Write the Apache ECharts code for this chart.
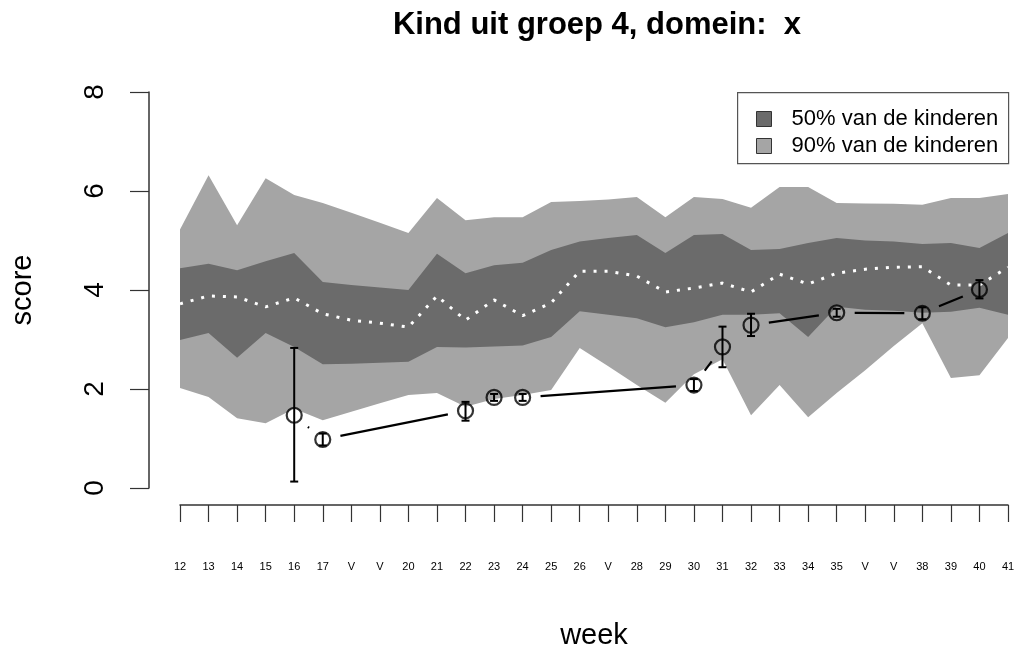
<!DOCTYPE html>
<html><head><meta charset="utf-8">
<script src="https://cdn.jsdelivr.net/npm/echarts@6/dist/echarts.min.js"></script>
<style>html,body{margin:0;padding:0;background:#fff}#c{width:1024px;height:657px}</style>
</head><body><div id="c"></div>
<script>
const weeks = ['12','13','14','15','16','17','V','V','20','21','22','23','24','25','26','V','28','29','30','31','32','33','34','35','V','V','38','39','40','41'];
const p90Upper = [5.22,6.32,5.31,6.26,5.92,5.76,5.56,5.36,5.15,5.86,5.41,5.47,5.47,5.78,5.80,5.83,5.88,5.47,5.88,5.84,5.66,6.08,6.08,5.76,5.75,5.74,5.72,5.86,5.86,5.94];
const p50Upper = [4.44,4.53,4.40,4.58,4.75,4.16,4.10,4.05,4.00,4.73,4.34,4.50,4.55,4.81,4.98,5.05,5.11,4.75,5.11,5.13,4.81,4.83,4.95,5.05,5.00,4.98,4.93,4.95,4.85,5.15];
const p50Lower = [2.99,3.13,2.63,3.13,2.85,2.50,2.51,2.53,2.55,2.85,2.84,2.86,2.88,3.05,3.57,3.50,3.43,3.25,3.35,3.50,3.50,3.53,3.05,3.66,3.60,3.58,3.54,3.56,3.64,3.50];
const p90Lower = [2.02,1.84,1.41,1.31,1.60,1.37,1.54,1.71,1.88,1.92,1.64,1.80,1.88,1.98,2.83,2.46,2.08,1.72,2.30,2.60,1.47,2.08,1.43,1.92,2.38,2.87,3.33,2.22,2.28,3.03];
const median   = [3.72,3.88,3.86,3.66,3.84,3.52,3.39,3.33,3.25,3.88,3.39,3.80,3.48,3.74,4.38,4.38,4.28,3.96,4.04,4.14,3.96,4.32,4.12,4.34,4.42,4.46,4.47,4.10,4.10,4.46];
const childScore = [null,null,null,null,1.47,0.98,null,null,null,null,1.56,1.83,1.83,null,null,null,null,null,2.08,2.85,3.29,null,null,3.54,null,null,3.53,null,4.01,null];
const childLow   = [null,null,null,null,0.13,0.86,null,null,null,null,1.36,1.76,1.76,null,null,null,null,null,1.96,2.44,3.07,null,null,3.46,null,null,3.41,null,3.83,null];
const childHigh  = [null,null,null,null,2.83,1.10,null,null,null,null,1.74,1.90,1.90,null,null,null,null,null,2.20,3.26,3.52,null,null,3.62,null,null,3.65,null,4.20,null];
const yTicks = [0,2,4,6,8];
const titleText = 'Kind uit groep 4, domein:  x';
const legend50 = '50% van de kinderen';
const legend90 = '90% van de kinderen';

const FONT = '"Liberation Sans", Arial, Helvetica, sans-serif';
const DARK = '#6b6b6b', LIGHT = '#a5a5a5';

const obs = [], bars = [];
childScore.forEach((v, i) => { if (v != null) { obs.push([i, v]); bars.push([i, childLow[i], childHigh[i]]); } });

function band(lower, upper) {
  return function (params, api) {
    if (params.dataIndex !== 0) return;
    const pts = [];
    for (let i = 0; i < upper.length; i++) pts.push(api.coord([i, upper[i]]));
    for (let i = lower.length - 1; i >= 0; i--) pts.push(api.coord([i, lower[i]]));
    return { type: 'polygon', shape: { points: pts }, style: { fill: api.visual('color') } };
  };
}

const chart = echarts.init(document.getElementById('c'));
chart.setOption({
  backgroundColor: '#fff',
  animation: false,
  textStyle: { fontFamily: FONT },
  title: {
    text: titleText, left: 592, top: 5, textAlign: 'center',
    textStyle: { fontFamily: FONT, fontSize: 31, fontWeight: 'bold', color: '#000' }
  },
  graphic: [{
    type: 'rect', left: 737, top: 92, z: 1,
    shape: { width: 271, height: 71 },
    style: { fill: '#fff', stroke: '#555', lineWidth: 1.2 }
  }],
  legend: {
    data: [legend50, legend90], orient: 'vertical', left: 756, top: 108, z: 10,
    itemWidth: 15, itemHeight: 15, itemGap: 5, icon: 'rect',
    itemStyle: { borderColor: '#333', borderWidth: 1 },
    textStyle: { fontFamily: FONT, fontSize: 22, color: '#000', lineHeight: 22, padding: [0, 0, 0, 15] },
    padding: 0
  },
  grid: { left: 177, right: 16, top: 92, bottom: 169 },
  xAxis: {
    type: 'category', data: weeks, boundaryGap: false, offset: 17,
    axisLine: { onZero: false, lineStyle: { color: '#333', width: 1.5 } },
    axisTick: { length: 17, interval: 0, lineStyle: { color: '#333', width: 1.2 } },
    axisLabel: { interval: 0, fontSize: 11, color: '#000', margin: 56, fontFamily: FONT },
    name: 'week', nameLocation: 'middle', nameGap: 116,
    nameTextStyle: { fontSize: 29, color: '#000', fontFamily: FONT },
    splitLine: { show: false }
  },
  yAxis: {
    type: 'value', min: yTicks[0], max: yTicks[yTicks.length - 1], interval: 2, offset: 31,
    axisLine: { show: true, onZero: false, lineStyle: { color: '#333', width: 1.5 } },
    axisTick: { show: true, length: 19, lineStyle: { color: '#333', width: 1.2 } },
    axisLabel: { rotate: 90, fontSize: 28, color: '#000', margin: 40, fontFamily: FONT },
    name: 'score', nameLocation: 'middle', nameRotate: 90, nameGap: 112,
    nameTextStyle: { fontSize: 29, color: '#000', fontFamily: FONT },
    splitLine: { show: false }
  },
  series: [
    { name: legend90, type: 'custom', renderItem: band(p90Lower, p90Upper), data: [[0, p90Upper[0]]],
      itemStyle: { color: LIGHT }, silent: true, z: 1 },
    { name: legend50, type: 'custom', renderItem: band(p50Lower, p50Upper), data: [[0, p50Upper[0]]],
      itemStyle: { color: DARK }, silent: true, z: 2 },
    { name: 'mediaan', type: 'line', data: median, symbol: 'none', z: 3,
      lineStyle: { color: '#fff', width: 3, type: [3, 8], cap: 'butt' } },
    { name: 'lijn', type: 'custom', data: obs, z: 4,
      renderItem: function (params, api) {
        const k = params.dataIndex; if (k === 0) return;
        const a = api.coord(obs[k - 1]), b = api.coord([api.value(0), api.value(1)]);
        const dx = b[0] - a[0], dy = b[1] - a[1], d = Math.hypot(dx, dy), g = 18;
        if (d <= 2 * g) return;
        const ux = dx / d, uy = dy / d;
        return { type: 'line', shape: { x1: a[0] + ux * g, y1: a[1] + uy * g, x2: b[0] - ux * g, y2: b[1] - uy * g },
          style: { stroke: '#000', lineWidth: 2.2 } };
      } },
    { name: 'fout', type: 'custom', data: bars, z: 5,
      renderItem: function (params, api) {
        const x = api.value(0);
        const top = api.coord([x, api.value(2)]), bot = api.coord([x, api.value(1)]);
        const w = 4, st = { stroke: '#000', lineWidth: 2 };
        return { type: 'group', children: [
          { type: 'line', shape: { x1: top[0], y1: top[1], x2: bot[0], y2: bot[1] }, style: st },
          { type: 'line', shape: { x1: top[0] - w, y1: top[1], x2: top[0] + w, y2: top[1] }, style: st },
          { type: 'line', shape: { x1: bot[0] - w, y1: bot[1], x2: bot[0] + w, y2: bot[1] }, style: st }
        ] };
      } },
    { name: 'kind', type: 'scatter', data: obs, symbol: 'circle', symbolSize: 15, z: 6,
      itemStyle: { color: 'rgba(0,0,0,0)', borderColor: '#000', borderWidth: 2.2 } }
  ]
});
</script>
</body></html>
